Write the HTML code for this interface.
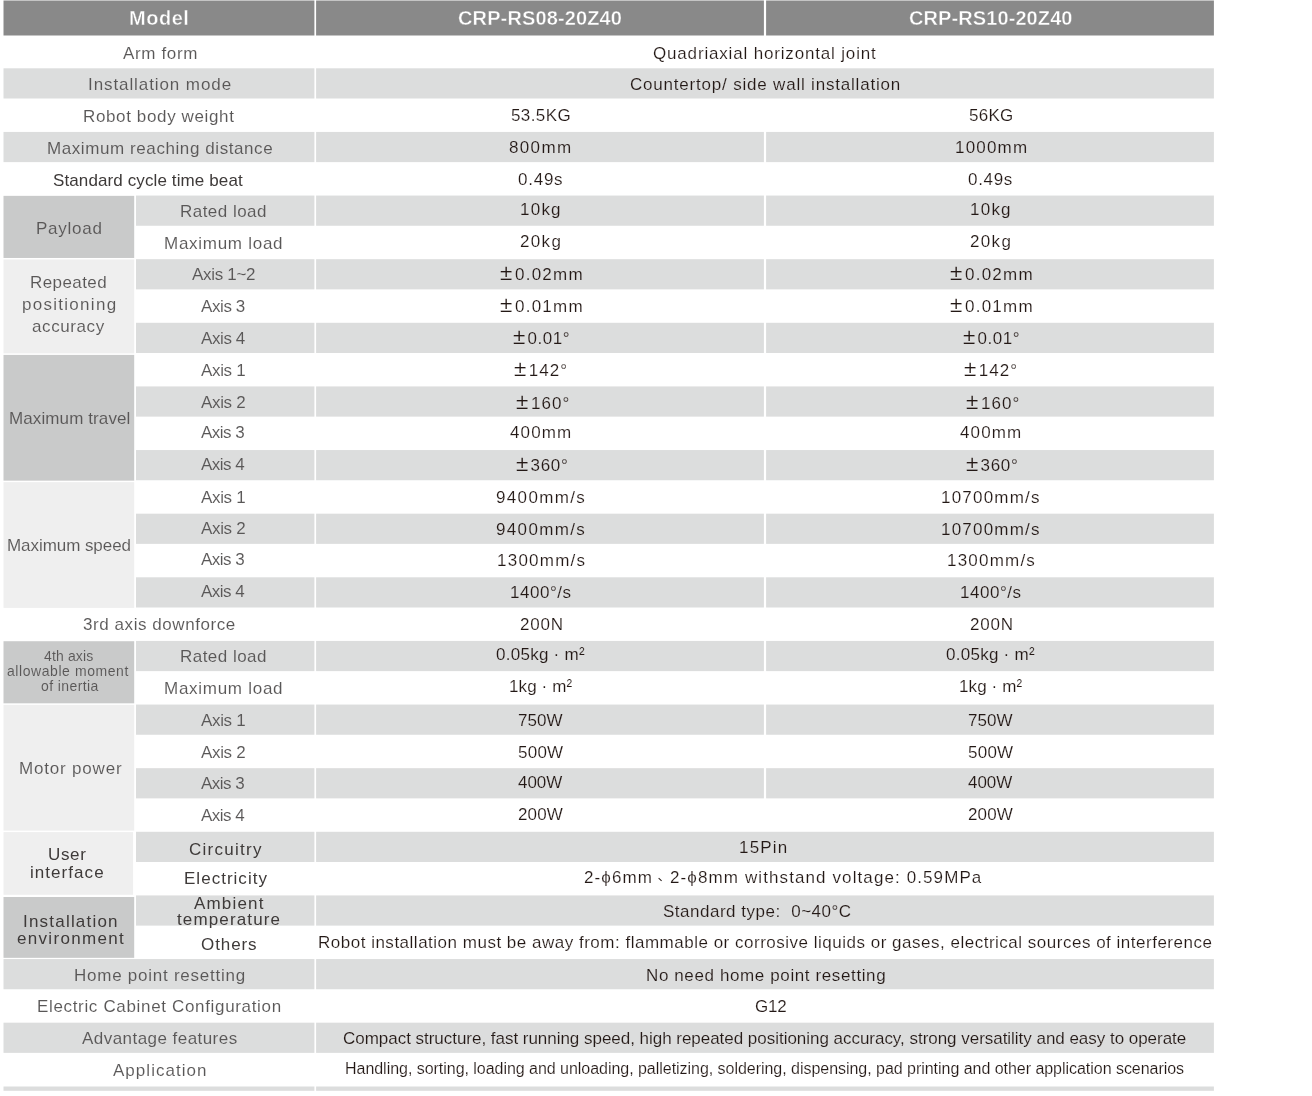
<!DOCTYPE html>
<html><head><meta charset="utf-8"><style>
html,body{margin:0;padding:0;background:#fff;width:1312px;height:1096px;overflow:hidden;position:relative;}
.b{position:absolute;}
.t{position:absolute;font-family:"Liberation Sans",sans-serif;white-space:nowrap;line-height:20px;will-change:transform;}
.pm{font-size:1.32em;line-height:0;margin-right:1.5px;}
.dn{display:inline-block;position:relative;width:1em;height:1px;}
.dn i{position:absolute;left:0.28em;top:-3px;width:4.2px;height:1.3px;background:currentColor;transform:rotate(42deg);}

</style></head><body>
<svg width="1312" height="1096" style="position:absolute;left:0;top:0"><rect x="3.50" y="0.50" width="310.90" height="35.00" fill="#898989"/><rect x="316.10" y="0.50" width="447.80" height="35.00" fill="#898989"/><rect x="766.10" y="0.50" width="447.80" height="35.00" fill="#898989"/><rect x="3.50" y="68.30" width="310.90" height="30.20" fill="#dcdddd"/><rect x="316.10" y="68.30" width="897.80" height="30.20" fill="#dcdddd"/><rect x="3.50" y="131.93" width="310.90" height="30.20" fill="#dcdddd"/><rect x="316.10" y="131.93" width="447.80" height="30.20" fill="#dcdddd"/><rect x="766.10" y="131.93" width="447.80" height="30.20" fill="#dcdddd"/><rect x="136.00" y="195.55" width="178.40" height="30.20" fill="#dcdddd"/><rect x="316.10" y="195.55" width="447.80" height="30.20" fill="#dcdddd"/><rect x="766.10" y="195.55" width="447.80" height="30.20" fill="#dcdddd"/><rect x="136.00" y="259.18" width="178.40" height="30.20" fill="#dcdddd"/><rect x="316.10" y="259.18" width="447.80" height="30.20" fill="#dcdddd"/><rect x="766.10" y="259.18" width="447.80" height="30.20" fill="#dcdddd"/><rect x="136.00" y="322.80" width="178.40" height="30.20" fill="#dcdddd"/><rect x="316.10" y="322.80" width="447.80" height="30.20" fill="#dcdddd"/><rect x="766.10" y="322.80" width="447.80" height="30.20" fill="#dcdddd"/><rect x="136.00" y="386.43" width="178.40" height="30.20" fill="#dcdddd"/><rect x="316.10" y="386.43" width="447.80" height="30.20" fill="#dcdddd"/><rect x="766.10" y="386.43" width="447.80" height="30.20" fill="#dcdddd"/><rect x="136.00" y="450.05" width="178.40" height="30.20" fill="#dcdddd"/><rect x="316.10" y="450.05" width="447.80" height="30.20" fill="#dcdddd"/><rect x="766.10" y="450.05" width="447.80" height="30.20" fill="#dcdddd"/><rect x="136.00" y="513.67" width="178.40" height="30.20" fill="#dcdddd"/><rect x="316.10" y="513.67" width="447.80" height="30.20" fill="#dcdddd"/><rect x="766.10" y="513.67" width="447.80" height="30.20" fill="#dcdddd"/><rect x="136.00" y="577.30" width="178.40" height="30.20" fill="#dcdddd"/><rect x="316.10" y="577.30" width="447.80" height="30.20" fill="#dcdddd"/><rect x="766.10" y="577.30" width="447.80" height="30.20" fill="#dcdddd"/><rect x="136.00" y="640.92" width="178.40" height="30.20" fill="#dcdddd"/><rect x="316.10" y="640.92" width="447.80" height="30.20" fill="#dcdddd"/><rect x="766.10" y="640.92" width="447.80" height="30.20" fill="#dcdddd"/><rect x="136.00" y="704.55" width="178.40" height="30.20" fill="#dcdddd"/><rect x="316.10" y="704.55" width="447.80" height="30.20" fill="#dcdddd"/><rect x="766.10" y="704.55" width="447.80" height="30.20" fill="#dcdddd"/><rect x="136.00" y="768.17" width="178.40" height="30.20" fill="#dcdddd"/><rect x="316.10" y="768.17" width="447.80" height="30.20" fill="#dcdddd"/><rect x="766.10" y="768.17" width="447.80" height="30.20" fill="#dcdddd"/><rect x="136.00" y="831.80" width="178.40" height="30.20" fill="#dcdddd"/><rect x="316.10" y="831.80" width="897.80" height="30.20" fill="#dcdddd"/><rect x="136.00" y="895.42" width="178.40" height="30.20" fill="#dcdddd"/><rect x="316.10" y="895.42" width="897.80" height="30.20" fill="#dcdddd"/><rect x="3.50" y="959.05" width="310.90" height="30.20" fill="#dcdddd"/><rect x="316.10" y="959.05" width="897.80" height="30.20" fill="#dcdddd"/><rect x="3.50" y="1022.67" width="310.90" height="30.20" fill="#dcdddd"/><rect x="316.10" y="1022.67" width="897.80" height="30.20" fill="#dcdddd"/><rect x="3.50" y="195.85" width="130.70" height="62.11" fill="#c9caca"/><rect x="3.50" y="259.48" width="130.70" height="93.92" fill="#efefef"/><rect x="3.50" y="354.91" width="130.70" height="125.74" fill="#c9caca"/><rect x="3.50" y="482.16" width="130.70" height="125.74" fill="#efefef"/><rect x="3.50" y="641.22" width="130.70" height="62.11" fill="#c9caca"/><rect x="3.50" y="704.85" width="130.70" height="125.74" fill="#efefef"/><rect x="3.50" y="832.10" width="129.60" height="62.70" fill="#efefef"/><rect x="3.50" y="897.00" width="130.70" height="60.84" fill="#c9caca"/><rect x="3.50" y="1086.50" width="310.90" height="4.30" fill="#dcdddd"/><rect x="316.10" y="1086.50" width="897.80" height="4.30" fill="#dcdddd"/></svg>
<div class="t" style="left:128.70px;top:8.20px;font-size:20px;letter-spacing:0.525px;color:#fff;-webkit-text-stroke:0.4px #898989;font-weight:bold;">Model</div>
<div class="t" style="left:458.30px;top:8.00px;font-size:20px;letter-spacing:0.131px;color:#fff;-webkit-text-stroke:0.4px #898989;font-weight:bold;">CRP-RS08-20Z40</div>
<div class="t" style="left:908.50px;top:8.00px;font-size:20px;letter-spacing:0.092px;color:#fff;-webkit-text-stroke:0.4px #898989;font-weight:bold;">CRP-RS10-20Z40</div>
<div class="t" style="left:122.70px;top:43.60px;font-size:17px;letter-spacing:0.643px;color:#595757;-webkit-text-stroke:0.08px #ffffff;">Arm form</div>
<div class="t" style="left:87.50px;top:74.60px;font-size:17px;letter-spacing:0.912px;color:#595757;-webkit-text-stroke:0.08px #dcdddd;">Installation mode</div>
<div class="t" style="left:83.30px;top:106.60px;font-size:17px;letter-spacing:0.631px;color:#595757;-webkit-text-stroke:0.08px #ffffff;">Robot body weight</div>
<div class="t" style="left:46.50px;top:138.50px;font-size:17px;letter-spacing:0.583px;color:#595757;-webkit-text-stroke:0.08px #dcdddd;">Maximum reaching distance</div>
<div class="t" style="left:53.10px;top:170.70px;font-size:17px;letter-spacing:0.113px;color:#3e3a39;">Standard cycle time beat</div>
<div class="t" style="left:180.10px;top:202.00px;font-size:17px;letter-spacing:0.467px;color:#595757;-webkit-text-stroke:0.08px #dcdddd;">Rated load</div>
<div class="t" style="left:164.20px;top:233.80px;font-size:17px;letter-spacing:0.727px;color:#595757;-webkit-text-stroke:0.08px #ffffff;">Maximum load</div>
<div class="t" style="left:191.60px;top:265.30px;font-size:17px;letter-spacing:-0.300px;color:#595757;-webkit-text-stroke:0.08px #dcdddd;">Axis 1~2</div>
<div class="t" style="left:201.20px;top:297.20px;font-size:17px;letter-spacing:-0.400px;color:#595757;-webkit-text-stroke:0.08px #ffffff;">Axis 3</div>
<div class="t" style="left:201.20px;top:328.90px;font-size:17px;letter-spacing:-0.400px;color:#595757;-webkit-text-stroke:0.08px #dcdddd;">Axis 4</div>
<div class="t" style="left:201.20px;top:361.00px;font-size:17px;letter-spacing:-0.340px;color:#595757;-webkit-text-stroke:0.08px #ffffff;">Axis 1</div>
<div class="t" style="left:201.20px;top:392.50px;font-size:17px;letter-spacing:-0.340px;color:#595757;-webkit-text-stroke:0.08px #dcdddd;">Axis 2</div>
<div class="t" style="left:201.20px;top:423.10px;font-size:17px;letter-spacing:-0.540px;color:#595757;-webkit-text-stroke:0.08px #ffffff;">Axis 3</div>
<div class="t" style="left:201.20px;top:454.90px;font-size:17px;letter-spacing:-0.540px;color:#595757;-webkit-text-stroke:0.08px #dcdddd;">Axis 4</div>
<div class="t" style="left:201.20px;top:487.80px;font-size:17px;letter-spacing:-0.340px;color:#595757;-webkit-text-stroke:0.08px #ffffff;">Axis 1</div>
<div class="t" style="left:201.20px;top:519.40px;font-size:17px;letter-spacing:-0.340px;color:#595757;-webkit-text-stroke:0.08px #dcdddd;">Axis 2</div>
<div class="t" style="left:201.20px;top:550.30px;font-size:17px;letter-spacing:-0.540px;color:#595757;-webkit-text-stroke:0.08px #ffffff;">Axis 3</div>
<div class="t" style="left:201.20px;top:581.80px;font-size:17px;letter-spacing:-0.540px;color:#595757;-webkit-text-stroke:0.08px #dcdddd;">Axis 4</div>
<div class="t" style="left:82.80px;top:615.20px;font-size:17px;letter-spacing:0.565px;color:#595757;-webkit-text-stroke:0.08px #ffffff;">3rd axis downforce</div>
<div class="t" style="left:180.10px;top:646.90px;font-size:17px;letter-spacing:0.467px;color:#595757;-webkit-text-stroke:0.08px #dcdddd;">Rated load</div>
<div class="t" style="left:164.20px;top:679.04px;font-size:17px;letter-spacing:0.727px;color:#595757;-webkit-text-stroke:0.08px #ffffff;">Maximum load</div>
<div class="t" style="left:201.20px;top:710.85px;font-size:17px;letter-spacing:-0.340px;color:#595757;-webkit-text-stroke:0.08px #dcdddd;">Axis 1</div>
<div class="t" style="left:201.20px;top:742.66px;font-size:17px;letter-spacing:-0.340px;color:#595757;-webkit-text-stroke:0.08px #ffffff;">Axis 2</div>
<div class="t" style="left:201.20px;top:774.48px;font-size:17px;letter-spacing:-0.540px;color:#595757;-webkit-text-stroke:0.08px #dcdddd;">Axis 3</div>
<div class="t" style="left:201.20px;top:806.29px;font-size:17px;letter-spacing:-0.540px;color:#595757;-webkit-text-stroke:0.08px #ffffff;">Axis 4</div>
<div class="t" style="left:189.40px;top:840.00px;font-size:17px;letter-spacing:1.275px;color:#3e3a39;">Circuitry</div>
<div class="t" style="left:183.90px;top:869.00px;font-size:17px;letter-spacing:1.020px;color:#3e3a39;">Electricity</div>
<div class="t" style="left:193.70px;top:893.80px;font-size:17px;letter-spacing:1.183px;color:#3e3a39;">Ambient</div>
<div class="t" style="left:177.30px;top:910.10px;font-size:17px;letter-spacing:1.140px;color:#3e3a39;">temperature</div>
<div class="t" style="left:200.70px;top:935.40px;font-size:17px;letter-spacing:0.920px;color:#3e3a39;">Others</div>
<div class="t" style="left:73.70px;top:965.70px;font-size:17px;letter-spacing:0.753px;color:#595757;-webkit-text-stroke:0.08px #dcdddd;">Home point resetting</div>
<div class="t" style="left:37.20px;top:996.60px;font-size:17px;letter-spacing:0.662px;color:#595757;-webkit-text-stroke:0.08px #ffffff;">Electric Cabinet Configuration</div>
<div class="t" style="left:81.70px;top:1028.80px;font-size:17px;letter-spacing:0.453px;color:#595757;-webkit-text-stroke:0.08px #dcdddd;">Advantage features</div>
<div class="t" style="left:113.20px;top:1060.80px;font-size:17px;letter-spacing:1.030px;color:#595757;-webkit-text-stroke:0.08px #ffffff;">Application</div>
<div class="t" style="left:36.20px;top:218.70px;font-size:17px;letter-spacing:0.733px;color:#595757;-webkit-text-stroke:0.08px #c9caca;">Payload</div>
<div class="t" style="left:29.70px;top:272.80px;font-size:17px;letter-spacing:0.414px;color:#595757;-webkit-text-stroke:0.08px #efefef;">Repeated</div>
<div class="t" style="left:21.60px;top:295.40px;font-size:17px;letter-spacing:1.280px;color:#595757;-webkit-text-stroke:0.08px #efefef;">positioning</div>
<div class="t" style="left:31.70px;top:316.80px;font-size:17px;letter-spacing:0.600px;color:#595757;-webkit-text-stroke:0.08px #efefef;">accuracy</div>
<div class="t" style="left:8.60px;top:408.90px;font-size:17px;letter-spacing:0.108px;color:#595757;-webkit-text-stroke:0.08px #c9caca;">Maximum travel</div>
<div class="t" style="left:7.00px;top:536.20px;font-size:17px;letter-spacing:-0.058px;color:#595757;-webkit-text-stroke:0.08px #efefef;">Maximum speed</div>
<div class="t" style="left:44.00px;top:646.10px;font-size:14px;letter-spacing:0.143px;color:#595757;-webkit-text-stroke:0.08px #c9caca;">4th axis</div>
<div class="t" style="left:7.30px;top:661.20px;font-size:14px;letter-spacing:0.567px;color:#595757;-webkit-text-stroke:0.08px #c9caca;">allowable moment</div>
<div class="t" style="left:40.50px;top:676.30px;font-size:14px;letter-spacing:0.400px;color:#595757;-webkit-text-stroke:0.08px #c9caca;">of inertia</div>
<div class="t" style="left:18.60px;top:758.80px;font-size:17px;letter-spacing:0.810px;color:#595757;-webkit-text-stroke:0.08px #efefef;">Motor power</div>
<div class="t" style="left:47.50px;top:845.10px;font-size:17px;letter-spacing:0.667px;color:#3e3a39;">User</div>
<div class="t" style="left:29.70px;top:862.70px;font-size:17px;letter-spacing:1.050px;color:#3e3a39;">interface</div>
<div class="t" style="left:22.90px;top:911.80px;font-size:17px;letter-spacing:1.209px;color:#3e3a39;">Installation</div>
<div class="t" style="left:16.60px;top:929.40px;font-size:17px;letter-spacing:1.310px;color:#3e3a39;">environment</div>
<div class="t" style="left:510.60px;top:106.40px;font-size:17px;letter-spacing:0.400px;color:#231815;-webkit-text-stroke:0.15px #ffffff;">53.5KG</div>
<div class="t" style="left:968.80px;top:106.40px;font-size:17px;letter-spacing:0.233px;color:#231815;-webkit-text-stroke:0.15px #ffffff;">56KG</div>
<div class="t" style="left:509.40px;top:138.00px;font-size:17px;letter-spacing:1.350px;color:#231815;-webkit-text-stroke:0.15px #dcdddd;">800mm</div>
<div class="t" style="left:954.70px;top:138.00px;font-size:17px;letter-spacing:1.180px;color:#231815;-webkit-text-stroke:0.15px #dcdddd;">1000mm</div>
<div class="t" style="left:518.00px;top:169.80px;font-size:17px;letter-spacing:0.750px;color:#231815;-webkit-text-stroke:0.15px #ffffff;">0.49s</div>
<div class="t" style="left:967.90px;top:169.80px;font-size:17px;letter-spacing:0.675px;color:#231815;-webkit-text-stroke:0.15px #ffffff;">0.49s</div>
<div class="t" style="left:520.30px;top:200.20px;font-size:17px;letter-spacing:1.233px;color:#231815;-webkit-text-stroke:0.15px #dcdddd;">10kg</div>
<div class="t" style="left:970.30px;top:200.20px;font-size:17px;letter-spacing:1.233px;color:#231815;-webkit-text-stroke:0.15px #dcdddd;">10kg</div>
<div class="t" style="left:520.00px;top:232.00px;font-size:17px;letter-spacing:1.333px;color:#231815;-webkit-text-stroke:0.15px #ffffff;">20kg</div>
<div class="t" style="left:970.00px;top:232.00px;font-size:17px;letter-spacing:1.333px;color:#231815;-webkit-text-stroke:0.15px #ffffff;">20kg</div>
<div class="t" style="left:500.20px;top:265.48px;font-size:17px;letter-spacing:1.217px;color:#231815;-webkit-text-stroke:0.15px #dcdddd;"><span class="pm">±</span>0.02mm</div>
<div class="t" style="left:950.20px;top:265.48px;font-size:17px;letter-spacing:1.217px;color:#231815;-webkit-text-stroke:0.15px #dcdddd;"><span class="pm">±</span>0.02mm</div>
<div class="t" style="left:500.20px;top:297.29px;font-size:17px;letter-spacing:1.217px;color:#231815;-webkit-text-stroke:0.15px #ffffff;"><span class="pm">±</span>0.01mm</div>
<div class="t" style="left:950.20px;top:297.29px;font-size:17px;letter-spacing:1.217px;color:#231815;-webkit-text-stroke:0.15px #ffffff;"><span class="pm">±</span>0.01mm</div>
<div class="t" style="left:513.00px;top:329.10px;font-size:17px;letter-spacing:0.560px;color:#231815;-webkit-text-stroke:0.15px #dcdddd;"><span class="pm">±</span>0.01°</div>
<div class="t" style="left:963.00px;top:329.10px;font-size:17px;letter-spacing:0.560px;color:#231815;-webkit-text-stroke:0.15px #dcdddd;"><span class="pm">±</span>0.01°</div>
<div class="t" style="left:513.70px;top:360.91px;font-size:17px;letter-spacing:1.025px;color:#231815;-webkit-text-stroke:0.15px #ffffff;"><span class="pm">±</span>142°</div>
<div class="t" style="left:963.70px;top:360.91px;font-size:17px;letter-spacing:1.025px;color:#231815;-webkit-text-stroke:0.15px #ffffff;"><span class="pm">±</span>142°</div>
<div class="t" style="left:515.60px;top:393.60px;font-size:17px;letter-spacing:1.100px;color:#231815;-webkit-text-stroke:0.15px #dcdddd;"><span class="pm">±</span>160°</div>
<div class="t" style="left:965.60px;top:393.60px;font-size:17px;letter-spacing:1.100px;color:#231815;-webkit-text-stroke:0.15px #dcdddd;"><span class="pm">±</span>160°</div>
<div class="t" style="left:510.40px;top:423.40px;font-size:17px;letter-spacing:1.150px;color:#231815;-webkit-text-stroke:0.15px #ffffff;">400mm</div>
<div class="t" style="left:960.40px;top:423.40px;font-size:17px;letter-spacing:1.150px;color:#231815;-webkit-text-stroke:0.15px #ffffff;">400mm</div>
<div class="t" style="left:515.60px;top:456.35px;font-size:17px;letter-spacing:0.675px;color:#231815;-webkit-text-stroke:0.15px #dcdddd;"><span class="pm">±</span>360°</div>
<div class="t" style="left:965.60px;top:456.35px;font-size:17px;letter-spacing:0.675px;color:#231815;-webkit-text-stroke:0.15px #dcdddd;"><span class="pm">±</span>360°</div>
<div class="t" style="left:496.00px;top:488.16px;font-size:17px;letter-spacing:1.343px;color:#231815;-webkit-text-stroke:0.15px #ffffff;">9400mm/s</div>
<div class="t" style="left:941.30px;top:488.16px;font-size:17px;letter-spacing:1.213px;color:#231815;-webkit-text-stroke:0.15px #ffffff;">10700mm/s</div>
<div class="t" style="left:496.00px;top:519.98px;font-size:17px;letter-spacing:1.343px;color:#231815;-webkit-text-stroke:0.15px #dcdddd;">9400mm/s</div>
<div class="t" style="left:941.30px;top:519.98px;font-size:17px;letter-spacing:1.213px;color:#231815;-webkit-text-stroke:0.15px #dcdddd;">10700mm/s</div>
<div class="t" style="left:496.70px;top:550.90px;font-size:17px;letter-spacing:1.243px;color:#231815;-webkit-text-stroke:0.15px #ffffff;">1300mm/s</div>
<div class="t" style="left:946.60px;top:550.90px;font-size:17px;letter-spacing:1.214px;color:#231815;-webkit-text-stroke:0.15px #ffffff;">1300mm/s</div>
<div class="t" style="left:510.10px;top:583.00px;font-size:17px;letter-spacing:0.517px;color:#231815;-webkit-text-stroke:0.15px #dcdddd;">1400°/s</div>
<div class="t" style="left:960.00px;top:583.00px;font-size:17px;letter-spacing:0.517px;color:#231815;-webkit-text-stroke:0.15px #dcdddd;">1400°/s</div>
<div class="t" style="left:519.60px;top:615.41px;font-size:17px;letter-spacing:0.800px;color:#231815;-webkit-text-stroke:0.15px #ffffff;">200N</div>
<div class="t" style="left:969.60px;top:615.41px;font-size:17px;letter-spacing:0.800px;color:#231815;-webkit-text-stroke:0.15px #ffffff;">200N</div>
<div class="t" style="left:495.80px;top:645.20px;font-size:17px;letter-spacing:0.260px;color:#231815;-webkit-text-stroke:0.15px #dcdddd;">0.05kg · m²</div>
<div class="t" style="left:945.80px;top:645.20px;font-size:17px;letter-spacing:0.260px;color:#231815;-webkit-text-stroke:0.15px #dcdddd;">0.05kg · m²</div>
<div class="t" style="left:508.90px;top:677.20px;font-size:17px;letter-spacing:0.114px;color:#231815;-webkit-text-stroke:0.15px #ffffff;">1kg · m²</div>
<div class="t" style="left:958.90px;top:677.20px;font-size:17px;letter-spacing:0.114px;color:#231815;-webkit-text-stroke:0.15px #ffffff;">1kg · m²</div>
<div class="t" style="left:518.10px;top:710.85px;font-size:17px;letter-spacing:0.033px;color:#231815;-webkit-text-stroke:0.15px #dcdddd;">750W</div>
<div class="t" style="left:968.10px;top:710.85px;font-size:17px;letter-spacing:0.033px;color:#231815;-webkit-text-stroke:0.15px #dcdddd;">750W</div>
<div class="t" style="left:517.80px;top:742.66px;font-size:17px;letter-spacing:0.233px;color:#231815;-webkit-text-stroke:0.15px #ffffff;">500W</div>
<div class="t" style="left:967.80px;top:742.66px;font-size:17px;letter-spacing:0.233px;color:#231815;-webkit-text-stroke:0.15px #ffffff;">500W</div>
<div class="t" style="left:518.40px;top:773.00px;font-size:17px;letter-spacing:-0.067px;color:#231815;-webkit-text-stroke:0.15px #dcdddd;">400W</div>
<div class="t" style="left:968.40px;top:773.00px;font-size:17px;letter-spacing:-0.067px;color:#231815;-webkit-text-stroke:0.15px #dcdddd;">400W</div>
<div class="t" style="left:517.70px;top:804.90px;font-size:17px;letter-spacing:0.167px;color:#231815;-webkit-text-stroke:0.15px #ffffff;">200W</div>
<div class="t" style="left:967.70px;top:804.90px;font-size:17px;letter-spacing:0.167px;color:#231815;-webkit-text-stroke:0.15px #ffffff;">200W</div>
<div class="t" style="left:653.30px;top:43.90px;font-size:17px;letter-spacing:0.830px;color:#231815;-webkit-text-stroke:0.15px #ffffff;">Quadriaxial horizontal joint</div>
<div class="t" style="left:630.00px;top:74.70px;font-size:17px;letter-spacing:0.800px;color:#231815;-webkit-text-stroke:0.15px #dcdddd;">Countertop/ side wall installation</div>
<div class="t" style="left:738.70px;top:838.00px;font-size:17px;letter-spacing:1.175px;color:#231815;-webkit-text-stroke:0.15px #dcdddd;">15Pin</div>
<div class="t" style="left:584.40px;top:868.20px;font-size:17px;letter-spacing:1.103px;color:#231815;-webkit-text-stroke:0.15px #ffffff;">2-ϕ6mm<span class="dn"><i></i></span>2-ϕ8mm withstand voltage: 0.59MPa</div>
<div class="t" style="left:663.40px;top:902.00px;font-size:17px;letter-spacing:0.510px;color:#231815;-webkit-text-stroke:0.15px #dcdddd;">Standard type: &nbsp;0~40°C</div>
<div class="t" style="left:317.80px;top:932.80px;font-size:17px;letter-spacing:0.507px;color:#231815;-webkit-text-stroke:0.15px #ffffff;">Robot installation must be away from: flammable or corrosive liquids or gases, electrical sources of interference</div>
<div class="t" style="left:646.00px;top:965.60px;font-size:17px;letter-spacing:0.615px;color:#231815;-webkit-text-stroke:0.15px #dcdddd;">No need home point resetting</div>
<div class="t" style="left:754.60px;top:997.20px;font-size:17px;letter-spacing:-0.250px;color:#231815;-webkit-text-stroke:0.15px #ffffff;">G12</div>
<div class="t" style="left:343.10px;top:1029.40px;font-size:17px;letter-spacing:-0.028px;color:#231815;-webkit-text-stroke:0.15px #dcdddd;">Compact structure, fast running speed, high repeated positioning accuracy, strong versatility and easy to operate</div>
<div class="t" style="left:344.80px;top:1058.80px;font-size:16px;letter-spacing:-0.034px;color:#231815;-webkit-text-stroke:0.15px #ffffff;">Handling, sorting, loading and unloading, palletizing, soldering, dispensing, pad printing and other application scenarios</div>
</body></html>
